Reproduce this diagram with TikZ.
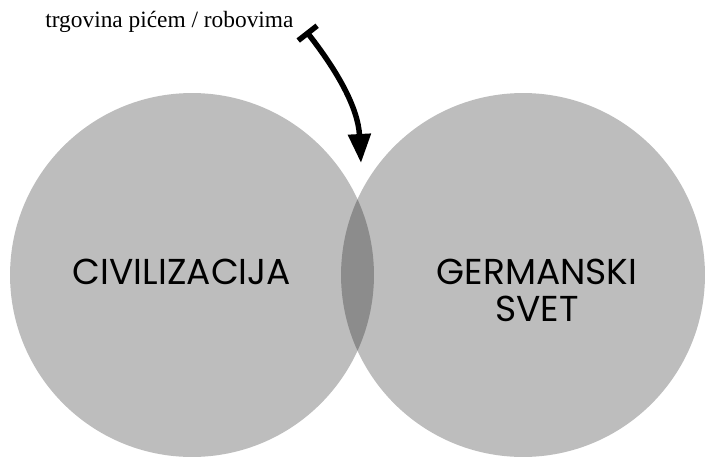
\documentclass[tikz,border=0pt]{standalone}
\usepackage{fontspec}
\setmainfont{Liberation Serif}
\newfontfamily\labelfont{Poppins}
\usetikzlibrary{arrows.meta}
\begin{document}
\begin{tikzpicture}[x=0.02cm,y=-0.02cm]
\useasboundingbox (0,0) rectangle (705,456);
\clip (0,0) rectangle (705,456);
\node[circle,fill=black,fill opacity=0.26,minimum size=7.28cm,inner sep=0] (civ) at (192,275) {};
\node[circle,fill=black,fill opacity=0.26,minimum size=7.28cm,inner sep=0] (germ) at (523,275) {};
\node[font=\labelfont\fontsize{20.5}{21}\selectfont] (civlabel) at (182,272) {CIVILIZACIJA};
\node[font=\labelfont\fontsize{20.5}{21}\selectfont,align=center] (germlabel) at (537,290) {GERMANSKI\\SVET};
\node[anchor=base west,font=\fontsize{13.3}{16}\selectfont,inner sep=0] (trade) at (45,28) {trgovina pićem / robovima};
\coordinate (src) at (306,31);
\coordinate (tgt) at (361,163);
\draw[line width=3.1pt,{Bar[width=0.48cm]}-{Triangle[length=0.58cm,width=0.44cm]}]
  (src) .. controls (338,72) and (358,108) .. (tgt);
\end{tikzpicture}
\end{document}
